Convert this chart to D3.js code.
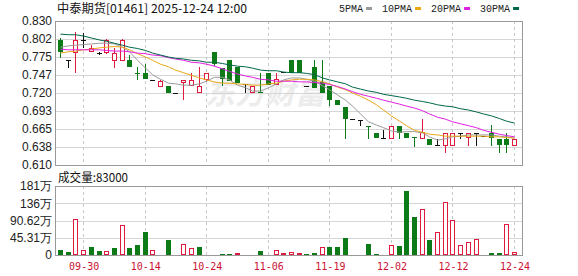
<!DOCTYPE html>
<meta charset="utf-8">
<style>
    body { margin: 0; background: #fff; }
    .hgrid { stroke: #d6d6d6; shape-rendering: crispEdges; }
    .vgrid { stroke: #c8c8c8; stroke-dasharray: 3,3; shape-rendering: crispEdges; }
    .frame { fill: none; stroke: #999; shape-rendering: crispEdges; }
    .ylab { font: 12px "Liberation Sans", Arial, sans-serif; fill: #222; text-anchor: end; }
    .ma { fill: none; stroke-width: 1px; }
</style>
<body>
<script src="https://d3js.org/d3.v7.min.js"></script>
<script>

    // trading days shown (one candle each)
    var days = ["09-25","09-26","09-29","09-30","10-02","10-03","10-06","10-08","10-09","10-10",
                "10-13","10-14","10-15","10-16","10-17","10-20","10-21","10-22","10-23","10-24",
                "10-27","10-28","10-30","10-31","11-03","11-04","11-05","11-06","11-07","11-10",
                "11-11","11-13","11-14","11-17","11-18","11-19","11-20","11-21","11-24","11-25",
                "11-26","11-27","11-28","12-02","12-03","12-04","12-05","12-08","12-09","12-10",
                "12-11","12-12","12-15","12-16","12-17","12-18","12-19","12-22","12-23","12-24"];

    // prices
    var open  = [.801,.771,.782,.801,.784,.781,.782,.771,.771,.771,.750,.750,.740,.731,.731,.720,.737,.732,.722,.741,
                 .782,.758,.770,.760,.733,.722,.722,.750,.733,.752,.770,.770,.731,.760,.737,.730,.710,.699,.680,.679,
                 .670,.659,.651,.651,.669,.659,.653,.651,.649,.640,.640,.640,.659,.653,.659,.655,.659,.649,.649,.640];
    var high  = [.804,.771,.813,.811,.794,.782,.803,.788,.803,.778,.759,.764,.740,.740,.731,.720,.740,.750,.759,.751,
                 .782,.758,.770,.760,.733,.731,.750,.750,.750,.752,.770,.770,.731,.770,.770,.730,.710,.699,.680,.679,
                 .670,.659,.664,.669,.669,.659,.653,.680,.649,.649,.659,.659,.659,.659,.659,.655,.671,.649,.659,.649];
    var low   = [.775,.760,.752,.791,.784,.780,.781,.760,.770,.760,.741,.741,.740,.731,.720,.720,.711,.732,.722,.740,
                 .763,.732,.738,.735,.722,.722,.720,.732,.733,.752,.750,.750,.731,.727,.720,.702,.702,.651,.680,.671,
                 .651,.651,.651,.651,.651,.651,.639,.651,.640,.640,.630,.640,.651,.640,.640,.655,.640,.630,.630,.640];
    var close = [.782,.771,.801,.801,.789,.781,.801,.781,.801,.760,.749,.741,.740,.739,.720,.720,.740,.740,.731,.750,
                 .764,.741,.738,.735,.733,.731,.720,.732,.741,.752,.750,.750,.731,.728,.720,.710,.702,.681,.680,.679,
                 .669,.651,.651,.669,.659,.651,.651,.660,.640,.640,.659,.659,.659,.659,.659,.655,.651,.640,.640,.649];

    // moving averages
    var ma5  = [.790,.792,.793,.794,.795,.796,.796,.795,.790,.783,.770,.758,.748,.741,.735,.734,.732,.732,.734,.738,
                .744,.744,.740,.732,.728,.723,.723,.728,.734,.740,.743,.743,.741,.738,.731,.725,.717,.709,.700,.688,
                .676,.671,.667,.662,.660,.661,.661,.659,.653,.648,.650,.653,.654,.656,.656,.656,.656,.654,.653,.651];
    var ma10 = [.781,.783,.784,.786,.787,.789,.790,.791,.790,.786,.780,.775,.770,.764,.760,.755,.751,.747,.743,.740,
                .737,.735,.735,.734,.733,.732,.732,.734,.735,.738,.740,.741,.741,.740,.737,.734,.729,.725,.720,.715,
                .709,.702,.694,.685,.677,.670,.663,.660,.657,.656,.654,.654,.654,.654,.654,.654,.653,.653,.652,.651];
    var ma20 = [.787,.786,.786,.786,.786,.786,.785,.784,.784,.783,.781,.780,.778,.777,.774,.772,.770,.767,.766,.764,
                .761,.757,.753,.749,.746,.744,.741,.740,.738,.738,.738,.737,.737,.736,.735,.733,.730,.726,.722,.718,
                .715,.712,.709,.706,.703,.700,.697,.693,.688,.683,.680,.676,.673,.670,.667,.663,.660,.657,.655,.653];
    var ma30 = [.810,.809,.809,.807,.804,.801,.799,.796,.793,.790,.788,.785,.781,.778,.775,.773,.772,.770,.769,.767,
                .767,.765,.763,.761,.760,.758,.755,.754,.754,.752,.751,.751,.750,.748,.743,.740,.737,.734,.729,.726,
                .723,.721,.718,.716,.714,.712,.709,.707,.705,.702,.700,.699,.696,.694,.691,.688,.685,.681,.677,.674];

    // volume in 万 shares, and up(1)/down(0) colouring
    var vol   = [13,8,94,13,21,10.5,10.5,18,79,18,26,60,13,2,39,2,29,18,21,2,
                 2,1.5,1.5,4,0,2,10,2,13,4,7,4,1.5,4,21,21,21,45,2,2,
                 29,1.5,2,26,23,168,100,120,39,60,139,92,26,34,42,2,4,4,81,8.3];
    var volUp = [0,0,1,1,0,0,1,0,1,0,0,0,1,1,0,1,1,1,0,1,
                 1,0,0,1,1,1,0,1,1,1,1,1,0,0,1,0,0,0,1,1,
                 0,0,1,1,0,0,0,1,0,1,1,1,1,1,1,1,0,0,1,1];

    // axis ticks
    var priceTicks  = [0.610, 0.6375, 0.665, 0.6925, 0.720, 0.7475, 0.775, 0.8025, 0.830];
    var priceLabels = ["0.610","0.638","0.665","0.693","0.720","0.747","0.775","0.802","0.830"];
    var volTicks    = [0, 45.31, 90.62, 135.93, 181.24];
    var volLabels   = ["0","45.31万","90.62万","136万","181万"];
    var dateTicks   = ["09-30","10-14","10-24","11-06","11-19","12-02","12-12","12-24"];

    var maNames  = ["5PMA","10PMA","20PMA","30PMA"];
    var maSeries = [ma5, ma10, ma20, ma30];
    var maColors = ["#9a9a9a","#e8a818","#e020e0","#00664a"];

    var upColor = "#e0193e", downColor = "#0d7a18";

    // layout
    var plotL = 56, plotR = 522,
        priceTop = 21, priceBottom = 165,
        volTop = 186, volBottom = 255;

    var svg = d3.select("body").append("svg").attr("width", 578).attr("height", 276);

    // scales
    var x = d3.scaleBand().domain(days).range([56.7, 518.4]).padding(0);
    var y = d3.scaleLinear().domain([0.610, 0.830]).range([priceBottom, priceTop]);
    var yVol = d3.scaleLinear().domain([0, 181.24]).range([volBottom, volTop]);

    function cx(d) {
        return Math.round(x(d) + x.bandwidth() / 2 - 0.5) + 0.5;
    }

    // watermark
    svg.append("text").text("东方财富").attr("x", 205).attr("y", 104)
        .style("font", "italic bold 30px 'Noto Sans CJK SC', sans-serif").style("fill", "#ececec");

    // horizontal grid
    svg.selectAll(".hp").data(priceTicks).enter().append("line").attr("class", "hgrid")
        .attr("x1", plotL).attr("x2", plotR)
        .attr("y1", function(d) { return Math.round(y(d)) + 0.5; })
        .attr("y2", function(d) { return Math.round(y(d)) + 0.5; });
    svg.selectAll(".hv").data(volTicks).enter().append("line").attr("class", "hgrid")
        .attr("x1", plotL).attr("x2", plotR)
        .attr("y1", function(d) { return Math.round(yVol(d)) + 0.5; })
        .attr("y2", function(d) { return Math.round(yVol(d)) + 0.5; });

    // vertical dashed grid at date ticks
    dateTicks.forEach(function(t) {
        [[priceTop, priceBottom], [volTop, volBottom]].forEach(function(r) {
            svg.append("line").attr("class", "vgrid")
                .attr("x1", cx(t)).attr("x2", cx(t)).attr("y1", r[0]).attr("y2", r[1]);
        });
    });

    // frames
    svg.append("rect").attr("class", "frame").attr("x", plotL - 0.5).attr("y", priceTop + 0.5)
        .attr("width", plotR - plotL + 1).attr("height", priceBottom - priceTop);
    svg.append("rect").attr("class", "frame").attr("x", plotL - 0.5).attr("y", volTop + 0.5)
        .attr("width", plotR - plotL + 1).attr("height", volBottom - volTop);

    // y labels
    svg.selectAll(".pl").data(priceTicks).enter().append("text").attr("class", "ylab")
        .attr("x", 52).attr("y", function(d) { return y(d); }).attr("dy", "0.36em")
        .text(function(d, i) { return priceLabels[i]; });
    svg.selectAll(".vl").data(volTicks).enter().append("text").attr("class", "ylab")
        .attr("x", 52).attr("y", function(d) { return yVol(d); }).attr("dy", "0.36em")
        .text(function(d, i) { return volLabels[i]; });

    // candles
    var candles = svg.append("g");
    days.forEach(function(d, i) {
        var c = cx(d), L = c - 2.5;
        var o = open[i], cl = close[i];
        var col = cl > o ? upColor : (cl < o ? downColor : "#111");
        var yt = Math.round(y(Math.max(o, cl))), yb = Math.round(y(Math.min(o, cl)));
        var yh = Math.round(y(high[i])), yl = Math.round(y(low[i]));
        if (yh < yt) candles.append("line").attr("x1", c).attr("x2", c).attr("y1", yh).attr("y2", yt)
            .style("stroke", col).style("shape-rendering", "crispEdges");
        if (yl > yb) candles.append("line").attr("x1", c).attr("x2", c).attr("y1", yb).attr("y2", yl + 1)
            .style("stroke", col).style("shape-rendering", "crispEdges");
        if (cl > o) {
            candles.append("rect").attr("x", L + 0.5).attr("y", yt + 0.5).attr("width", 4).attr("height", Math.max(yb - yt, 1))
                .style("fill", "#fff").style("stroke", col).style("shape-rendering", "crispEdges");
        } else if (cl < o) {
            candles.append("rect").attr("x", L).attr("y", yt).attr("width", 5).attr("height", Math.max(yb - yt, 1))
                .style("fill", col).style("shape-rendering", "crispEdges");
        } else {
            candles.append("line").attr("x1", L).attr("x2", L + 5).attr("y1", yt + 0.5).attr("y2", yt + 0.5)
                .style("stroke", col).style("shape-rendering", "crispEdges");
        }
    });

    // moving average lines
    maSeries.forEach(function(s, k) {
        var line = d3.line()
            .x(function(v, i) { return cx(days[i]); })
            .y(function(v) { return y(v); });
        svg.append("path").datum(s).attr("class", "ma").attr("d", line).style("stroke", maColors[k]);
    });

    // volume bars
    days.forEach(function(d, i) {
        var L = cx(d) - 2.5;
        var top = Math.min(Math.round(yVol(vol[i])), volBottom - 1);
        if (vol[i] <= 0) return;
        if (volUp[i]) {
            svg.append("rect").attr("x", L + 0.5).attr("y", top + 0.5).attr("width", 4)
                .attr("height", Math.max(volBottom - top - 1, 0))
                .style("fill", "#fff").style("stroke", upColor).style("shape-rendering", "crispEdges");
        } else {
            svg.append("rect").attr("x", L).attr("y", top).attr("width", 5).attr("height", volBottom - top)
                .style("fill", downColor).style("shape-rendering", "crispEdges");
        }
    });

    // x axis labels
    var xAxis = svg.append("g").attr("transform", "translate(0," + volBottom + ")")
        .call(d3.axisBottom(x).tickValues(dateTicks).tickSize(0).tickPadding(8));
    xAxis.select(".domain").remove();
    xAxis.selectAll("text").attr("x", 0.5)
        .style("font", "10px 'DejaVu Sans Mono', monospace").style("fill", "#cc1133");

    // title
    svg.append("text").text("中泰期货[01461] 2025-12-24 12:00").attr("x", 57).attr("y", 13)
        .attr("textLength", 190).attr("lengthAdjust", "spacingAndGlyphs")
        .style("font", "12px 'Noto Sans CJK SC', sans-serif").style("fill", "#111");

    // volume caption
    svg.append("text").text("成交量:" + Math.round(vol[vol.length - 1] * 10000)).attr("x", 58).attr("y", 182)
        .attr("textLength", 70).attr("lengthAdjust", "spacingAndGlyphs")
        .style("font", "12px 'Noto Sans CJK SC', sans-serif").style("fill", "#111");

    // legend
    var cursor = 339;
    maNames.forEach(function(n, k) {
        var t = svg.append("text").text(n).attr("x", cursor).attr("y", 12)
            .style("font", "10px 'Liberation Mono', monospace").style("fill", "#222");
        var w = t.node().getComputedTextLength();
        svg.append("rect").attr("x", cursor + w + 3).attr("y", 7).attr("width", 6).attr("height", 3)
            .style("fill", maColors[k]);
        cursor += w + 3 + 6 + 10;
    });
</script>
</body>
